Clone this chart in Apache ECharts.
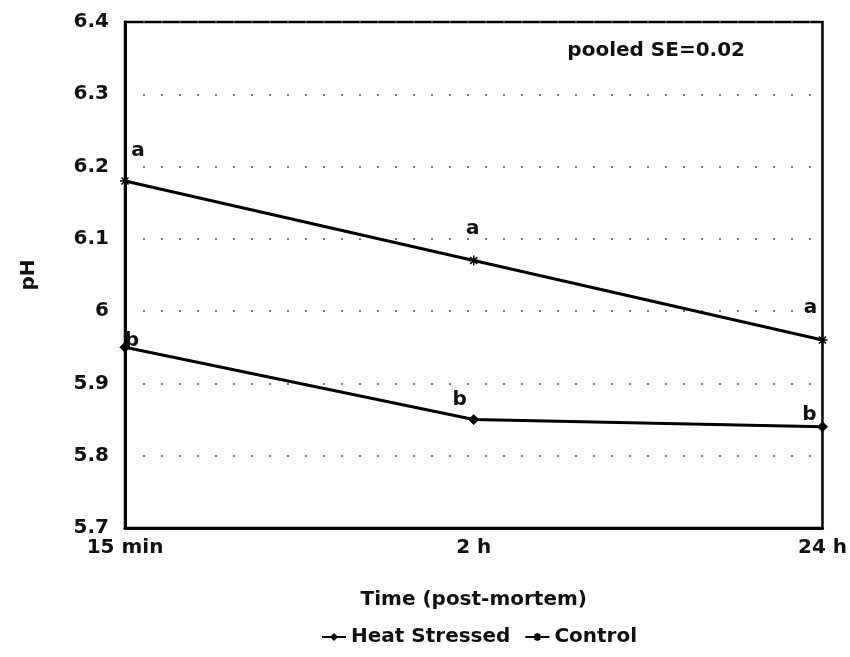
<!DOCTYPE html>
<html>
<head>
<meta charset="utf-8">
<script src="https://cdn.jsdelivr.net/npm/echarts@6/dist/echarts.min.js"></script>
<style>html,body{margin:0;padding:0;background:#fff}#c{width:850px;height:657px}</style>
</head>
<body>
<div id="c"></div>
<script>
const categories = ['15 min', '2 h', '24 h'];
const heatStressed = [5.95, 5.85, 5.84];
const control = [6.18, 6.07, 5.96];
const heatLetters = ['b', 'b', 'b'];
const controlLetters = ['a', 'a', 'a'];
const yTicks = { min: 5.7, max: 6.4, interval: 0.1 };
const noteText = 'pooled SE=0.02';

const FONT = 'DejaVu Sans, Verdana, sans-serif';
const TXT = '#111';
const W = 'bold';

const heatOffsets = [[7, 14], [-14, 1], [-13, 8]];
const ctrlOffsets = [[13, -9], [-1, -11], [-12, -12]];

function mk(vals, letters, offs) {
  return vals.map((v, i) => ({
    value: v,
    label: { show: true, formatter: letters[i], position: 'top', offset: offs[i],
      fontFamily: FONT, fontSize: 20, fontWeight: W, color: TXT }
  }));
}

const starPath = 'path://M0,5 L10,5 M5,0 L5,10 M1.5,1.5 L8.5,8.5 M8.5,1.5 L1.5,8.5';

const chart = echarts.init(document.getElementById('c'), null, { renderer: 'canvas' });
chart.setOption({
  animation: false,
  backgroundColor: '#fff',
  textStyle: { fontFamily: FONT },
  title: {
    text: noteText, right: 100, top: 36,
    textStyle: { fontFamily: FONT, fontSize: 20, fontWeight: W, color: TXT }
  },
  grid: { left: 125, right: 27, top: 22, bottom: 129, show: true, borderColor: '#000', borderWidth: 2.5 },
  legend: {
    bottom: 5, left: 316,
    itemWidth: 24, itemHeight: 10, itemGap: 14,
    textStyle: { fontFamily: FONT, fontSize: 20, fontWeight: W, color: TXT },
    data: ['Heat Stressed', 'Control']
  },
  xAxis: {
    type: 'category', data: categories, boundaryGap: false,
    name: 'Time (post-mortem)', nameLocation: 'middle', nameGap: 62,
    nameTextStyle: { fontFamily: FONT, fontSize: 20, fontWeight: W, color: TXT },
    axisLine: { lineStyle: { color: '#000', width: 3 } },
    axisTick: { show: false },
    axisLabel: { fontFamily: FONT, fontSize: 20, fontWeight: W, color: TXT, margin: 10 },
    splitLine: { show: false }
  },
  yAxis: {
    type: 'value', min: yTicks.min, max: yTicks.max, interval: yTicks.interval,
    name: 'pH', nameLocation: 'middle', nameGap: 86, nameRotate: 90,
    nameTextStyle: { fontFamily: FONT, fontSize: 20, fontWeight: W, color: TXT },
    axisLine: { show: true, lineStyle: { color: '#000', width: 3 } },
    axisTick: { show: false },
    axisLabel: { fontFamily: FONT, fontSize: 20, fontWeight: W, color: TXT, margin: 16,
      formatter: v => String(+v.toFixed(1)) },
    splitLine: { show: true, lineStyle: { color: '#555', width: 1.5, type: [2, 16] } }
  },
  series: [
    {
      name: 'Heat Stressed', type: 'line', data: mk(heatStressed, heatLetters, heatOffsets),
      symbol: 'diamond', symbolSize: 10, showAllSymbol: true,
      lineStyle: { color: '#000', width: 3 }, itemStyle: { color: '#000', borderColor: '#000' }
    },
    {
      name: 'Control', type: 'line', data: mk(control, controlLetters, ctrlOffsets),
      symbol: starPath, symbolSize: 10, showAllSymbol: true,
      lineStyle: { color: '#000', width: 3 }, itemStyle: { color: '#000', borderColor: '#000', borderWidth: 1.5 }
    }
  ]
});
</script>
</body>
</html>
